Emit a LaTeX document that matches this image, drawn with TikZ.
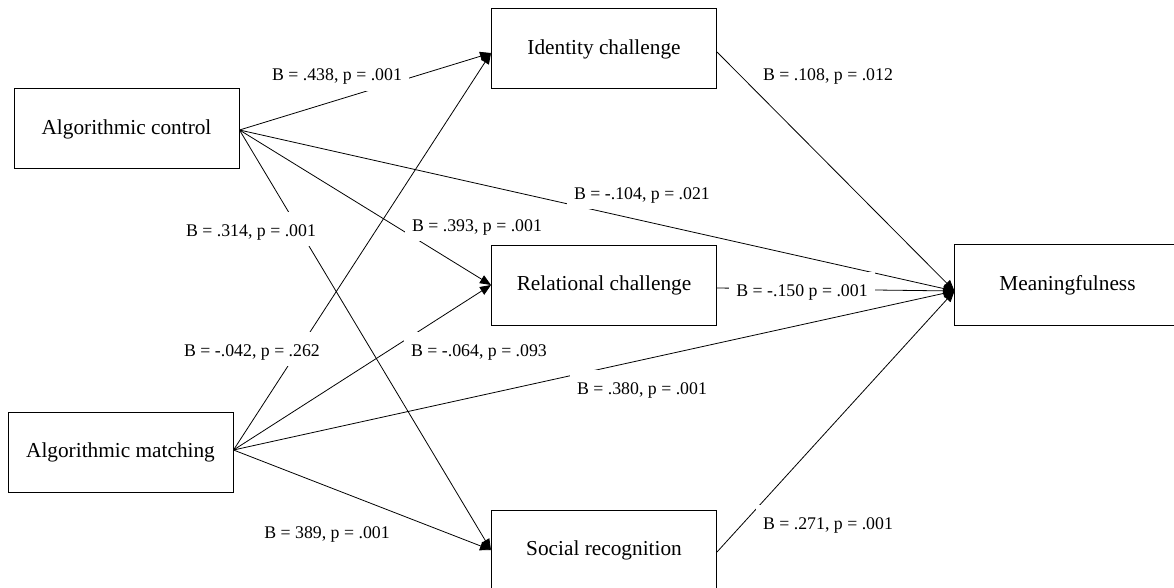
\documentclass[tikz,border=0pt]{standalone}
\usepackage{fontspec}
\setmainfont{Liberation Serif}
\usetikzlibrary{arrows.meta}
\begin{document}
\begin{tikzpicture}[x=1pt,y=-1pt,
  box/.style={draw, line width=1pt, minimum width=225pt, minimum height=80pt, inner sep=0pt,
    font=\fontsize{21.3pt}{25pt}\selectfont, fill=white},
  lab/.style={fill=white, inner xsep=7.5pt, inner ysep=7pt, text height=17pt, text depth=3pt,
    font=\fontsize{17.8pt}{21pt}\selectfont},
  link/.style={line width=0.8pt, -{Triangle[length=11pt,width=9pt]}}]
\useasboundingbox (0,0) rectangle (1174,588);
\fill[white] (0,0) rectangle (1174,588);
\clip (0,0) rectangle (1174,588);
% boxes
\node[box] (ac) at (126.5,129) {Algorithmic control};
\node[box] (am) at (120.5,452) {Algorithmic matching};
\node[box] (ic) at (604,49) {Identity challenge};
\node[box] (rc) at (604,285) {Relational challenge};
\node[box] (sr) at (604,550) {Social recognition};
\node[box, draw=none] (mf) at (1067.5,285) {Meaningfulness};
\draw[line width=1pt] ([xshift=30pt]mf.north east) -- (mf.north west) -- (mf.south west) -- ([xshift=30pt]mf.south east);
% connectors
\draw[link] ([yshift=-1pt]ac.east) -- ([yshift=-4pt]ic.west);
\draw[link] ([yshift=-1pt]ac.east) -- (rc.west);
\draw[link] ([yshift=-1pt]ac.east) -- (sr.west);
\draw[link] ([yshift=-1pt]ac.east) -- ([yshift=-6pt]mf.west);
\draw[link] ([yshift=2pt]am.east) -- ([yshift=-4pt]ic.west);
\draw[link] ([yshift=2pt]am.east) -- (rc.west);
\draw[link] ([yshift=2pt]am.east) -- (sr.west);
\draw[link] ([yshift=2pt]am.east) -- ([yshift=-6pt]mf.west);
\draw[link] ([yshift=-3pt]ic.east) -- ([yshift=-6pt]mf.west);
\draw[link] ([yshift=-3pt]rc.east) -- ([yshift=-6pt]mf.west);
\draw[link] ([yshift=-2pt]sr.east) -- ([yshift=-6pt]mf.west);
% labels
\node[lab] (l1) at (337,74) {B = .438, p = .001};
\node[lab] (l2) at (477,224) {B = .393, p = .001};
\node[lab] (l3) at (251,229) {B = .314, p = .001};
\node[lab] (l4) at (642,192) {B = -.104, p = .021};
\node[lab] (l5) at (252,349) {B = -.042, p = .262};
\node[lab] (l6) at (479,349) {B = -.064, p = .093};
\node[lab] (l7) at (642,387) {B = .380, p = .001};
\node[lab] (l8) at (327,531) {B = 389, p = .001};
\node[lab] (l9) at (828,74) {B = .108, p = .012};
\node[lab] (l10) at (802,289) {B = -.150 p = .001};
\node[lab] (l11) at (828,522) {B = .271, p = .001};
\end{tikzpicture}
\end{document}
